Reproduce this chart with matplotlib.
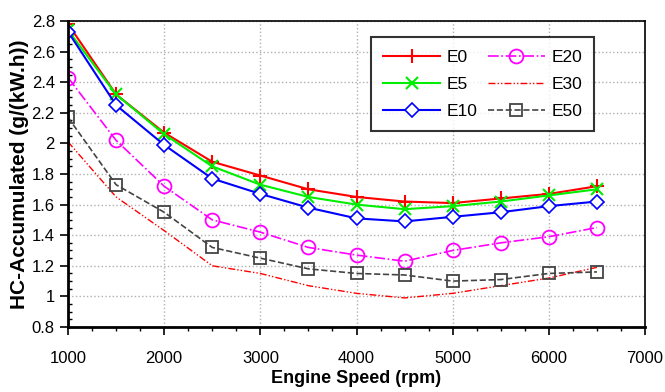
import numpy as np
import matplotlib.pyplot as plt
from matplotlib.ticker import MultipleLocator

plt.rcParams["font.family"] = ["Liberation Sans", "DejaVu Sans"]

speed = [1000, 1500, 2000, 2500, 3000, 3500, 4000, 4500, 5000, 5500, 6000, 6500]

e0 = [2.78, 2.32, 2.07, 1.88, 1.79, 1.70, 1.65, 1.62, 1.61, 1.64, 1.67, 1.72]
e5 = [2.74, 2.32, 2.06, 1.85, 1.73, 1.65, 1.60, 1.57, 1.59, 1.62, 1.66, 1.70]
e10 = [2.73, 2.25, 1.99, 1.77, 1.67, 1.58, 1.51, 1.49, 1.52, 1.55, 1.59, 1.62]
e20 = [2.43, 2.02, 1.72, 1.50, 1.42, 1.32, 1.27, 1.23, 1.30, 1.35, 1.39, 1.45]
e30 = [2.01, 1.65, 1.43, 1.20, 1.15, 1.07, 1.02, 0.99, 1.02, 1.07, 1.12, 1.19]
e50 = [2.17, 1.73, 1.55, 1.32, 1.25, 1.18, 1.15, 1.14, 1.10, 1.11, 1.15, 1.16]

ytick_labels = ["0.8", "1", "1.2", "1.4", "1.6", "1.8", "2", "2.2", "2.4", "2.6", "2.8"]

fig = plt.figure(figsize=(6.65, 3.92), dpi=100)
ax = fig.add_axes([68 / 665, 1 - 327 / 392, (645 - 68) / 665, (327 - 21) / 392])

ax.plot(speed, e0, color="red", lw=1.5, marker="+", ms=10, mew=1.5, label="E0")
ax.plot(speed, e5, color="#00ee00", lw=1.5, marker="x", ms=9, mew=1.5, label="E5")
ax.plot(speed, e10, color="blue", lw=1.5, marker="D", ms=7, mfc="white",
        mew=1.2, label="E10")
ax.plot(speed, e20, color="magenta", lw=1.2, ls="-.", marker="o", ms=10,
        mfc="none", mew=1.3, label="E20")
ax.plot(speed, e30, color="red", lw=1.0, ls=(0, (5, 1.5, 1, 1.5, 1, 1.5)),
        label="E30")
ax.plot(speed, e50, color="#444444", lw=1.2, ls="--", marker="s", ms=9,
        mfc="none", mew=1.3, label="E50")

ax.set_xlim(1000, 7000)
ax.set_ylim(0.8, 2.8)
ax.xaxis.set_major_locator(MultipleLocator(1000))
ax.xaxis.set_minor_locator(MultipleLocator(250))
ax.yaxis.set_minor_locator(MultipleLocator(0.05))
ax.set_yticks(np.arange(0.8, 2.81, 0.2))
ax.set_yticklabels(ytick_labels)

ax.tick_params(axis="both", which="major", labelsize=12, length=6, width=1.2)
ax.tick_params(axis="both", which="minor", length=3, width=1.0)
ax.tick_params(axis="y", which="minor", direction="in")
ax.tick_params(axis="x", which="both", pad=11)

ax.grid(True, which="major", color="#b0b0b0", ls=":", lw=1.0)
for side in ["left", "bottom"]:
    ax.spines[side].set_linewidth(2.0)
for side in ["top", "right"]:
    ax.spines[side].set_linewidth(1.2)

ax.set_xlabel("Engine Speed (rpm)", fontsize=13, fontweight="bold", labelpad=3)
ax.set_ylabel("HC-Accumulated (g/(kW.h))", fontsize=15, fontweight="bold",
              labelpad=2)

leg = ax.legend(ncol=2, loc="upper left", bbox_to_anchor=(0.51, 0.975),
                fontsize=12.5, frameon=True, fancybox=False, edgecolor="black",
                handlelength=3.3, columnspacing=0.6, handletextpad=0.35,
                labelspacing=0.7, borderpad=0.7)
leg.get_frame().set_linewidth(1.5)

fig.savefig("out.png", dpi=100)
